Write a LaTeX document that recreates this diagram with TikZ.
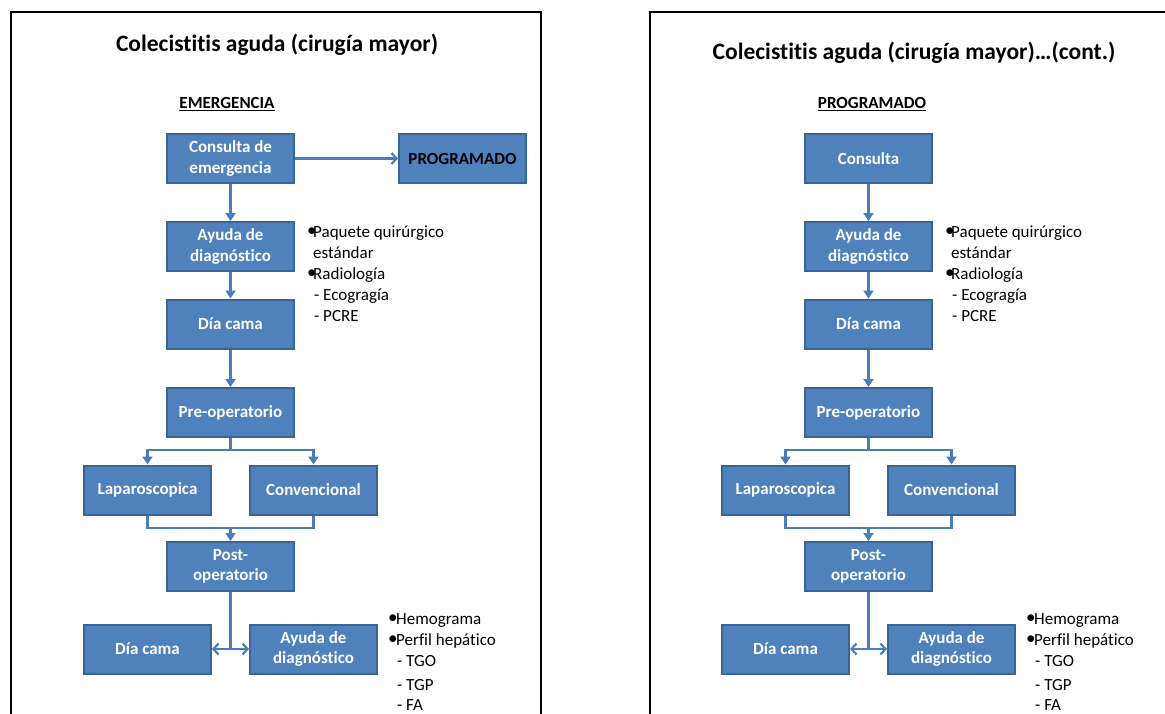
\documentclass[tikz,border=0pt]{standalone}
\usepackage{fontspec}
\setmainfont[Ligatures=NoCommon]{Carlito}
\usetikzlibrary{arrows.meta}
\definecolor{boxfill}{HTML}{4F81BD}
\definecolor{boxline}{HTML}{3A6496}
\definecolor{conn}{HTML}{4A7EBB}
\tikzset{
  box/.style={draw=boxline, fill=boxfill, line width=2pt, minimum width=127pt, minimum height=49pt,
    inner sep=0pt, text=white, font=\bfseries\fontsize{17}{20.5}\selectfont, align=center},
  arr/.style={draw=conn, line width=2.2pt, -{Triangle[length=8pt,width=10pt]}},
  openarr/.style={draw=conn, line width=2.2pt, -{Straight Barb[length=5pt,width=11pt]}},
  plain/.style={draw=conn, line width=2.2pt},
  note/.style={anchor=base west, inner sep=0pt, font=\fontsize{17}{20}\selectfont},
  ttl/.style={inner sep=0pt, font=\bfseries\fontsize{23.5}{26}\selectfont},
  head/.style={inner sep=0pt, font=\bfseries\fontsize{17}{20}\selectfont},
  frame/.style={draw=black, line width=2pt}
}
\newcommand{\blt}[1]{\makebox[#1][l]{\raisebox{0.5pt}{\fontsize{19}{20}\selectfont •}}}
\begin{document}
\begin{tikzpicture}[x=1pt,y=-1pt]
\useasboundingbox (0,0) rectangle (1165,713);
\begin{scope}
\clip (0,0) rectangle (1165,713);
\draw[frame] (11,12) rectangle (541,730);
\draw[frame] (650,12) rectangle (1180,730);
\end{scope}

% ---------------- left panel ----------------
\node[ttl] (t1) at (277,45) {Colecistitis aguda (cirugía mayor)};
\node[head] (h1) at (227,104) {\underline{EMERGENCIA}};
\node[box] (cons) at (230.5,158.5) {Consulta de\\emergencia};
\node[box] (prog) at (462.5,158.5) {\textcolor{black}{PROGRAMADO}};
\node[box] (ayu1) at (230.5,246.5) {Ayuda de\\diagnóstico};
\node[box] (dia1) at (230.5,324) {Día cama};
\node[box] (pre) at (230.5,412.5) {Pre-operatorio};
\node[box] (lap) at (147.5,490) {Laparoscopica};
\node[box] (conv) at (313.5,490) {Convencional};
\node[box] (post) at (230.5,566.5) {Post-\\operatorio};
\node[box] (dia2) at (147.5,649) {Día cama};
\node[box] (ayu2) at (313.5,649) {Ayuda de\\diagnóstico};

\draw[openarr] (cons.east) -- (prog.west);
\draw[arr] (cons.south) -- (ayu1.north);
\draw[arr] (ayu1.south) -- (dia1.north);
\draw[arr] (dia1.south) -- (pre.north);
\coordinate (b1) at ([yshift=-12pt]pre.south);
\draw[arr] (b1) -| (lap.north);
\draw[arr] (b1) -| (conv.north);
\draw[plain] (pre.south) -- (b1);
\coordinate (m1) at ([yshift=13pt]post.north);
\draw[plain] (lap.south) |- (m1) -| (conv.south);
\draw[arr] (m1) -- (post.north);
\draw[openarr] (post.south) |- (dia2.east);
\draw[openarr] (post.south) |- (ayu2.west);

\node[note] (n1a) at (307,237) {\blt{6pt}Paquete quirúrgico};
\node[note] (n1b) at (313,258) {estándar};
\node[note] (n1c) at (307,279) {\blt{6pt}Radiología};
\node[note] (n1d) at (314,300) {- Ecogragía};
\node[note] (n1e) at (314,321) {- PCRE};

\node[note] (n2a) at (388,624) {\blt{8pt}Hemograma};
\node[note] (n2b) at (388,645) {\blt{8pt}Perfil hepático};
\node[note] (n2c) at (397,666) {- TGO};
\node[note] (n2d) at (397,690) {- TGP};
\node[note] (n2e) at (397,710) {- FA};

% ---------------- right panel ----------------
\node[ttl] (t2) at (914,53) {Colecistitis aguda (cirugía mayor)…(cont.)};
\node[head] (h2) at (872,104) {\underline{PROGRAMADO}};
\begin{scope}[xshift=638pt]
\node[box] (rcons) at (230.5,158.5) {Consulta};
\node[box] (rayu1) at (230.5,246.5) {Ayuda de\\diagnóstico};
\node[box] (rdia1) at (230.5,324) {Día cama};
\node[box] (rpre) at (230.5,412.5) {Pre-operatorio};
\node[box] (rlap) at (147.5,490) {Laparoscopica};
\node[box] (rconv) at (313.5,490) {Convencional};
\node[box] (rpost) at (230.5,566.5) {Post-\\operatorio};
\node[box] (rdia2) at (147.5,649) {Día cama};
\node[box] (rayu2) at (313.5,649) {Ayuda de\\diagnóstico};

\draw[arr] (rcons.south) -- (rayu1.north);
\draw[arr] (rayu1.south) -- (rdia1.north);
\draw[arr] (rdia1.south) -- (rpre.north);
\coordinate (rb1) at ([yshift=-12pt]rpre.south);
\draw[arr] (rb1) -| (rlap.north);
\draw[arr] (rb1) -| (rconv.north);
\draw[plain] (rpre.south) -- (rb1);
\coordinate (rm1) at ([yshift=13pt]rpost.north);
\draw[plain] (rlap.south) |- (rm1) -| (rconv.south);
\draw[arr] (rm1) -- (rpost.north);
\draw[openarr] (rpost.south) |- (rdia2.east);
\draw[openarr] (rpost.south) |- (rayu2.west);

\node[note] (r1a) at (307,237) {\blt{6pt}Paquete quirúrgico};
\node[note] (r1b) at (313,258) {estándar};
\node[note] (r1c) at (307,279) {\blt{6pt}Radiología};
\node[note] (r1d) at (314,300) {- Ecogragía};
\node[note] (r1e) at (314,321) {- PCRE};

\node[note] (r2a) at (388,624) {\blt{8pt}Hemograma};
\node[note] (r2b) at (388,645) {\blt{8pt}Perfil hepático};
\node[note] (r2c) at (397,666) {- TGO};
\node[note] (r2d) at (397,690) {- TGP};
\node[note] (r2e) at (397,710) {- FA};
\end{scope}
\end{tikzpicture}
\end{document}
